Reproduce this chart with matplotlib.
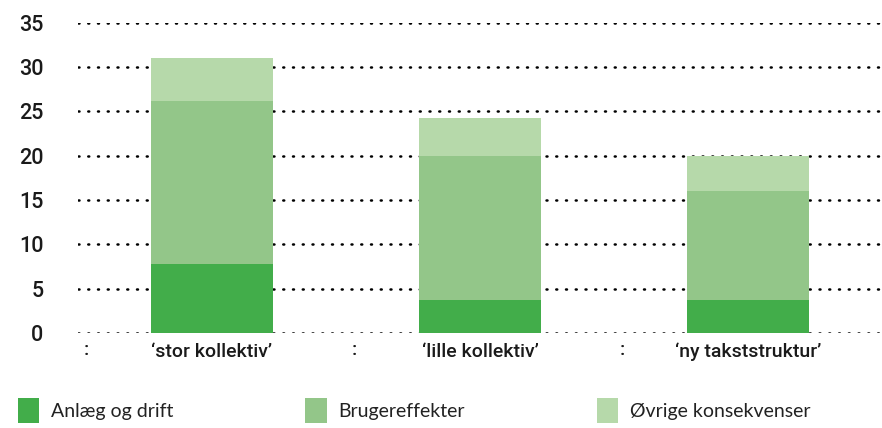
#!/usr/bin/env python3
"""Stacked bars: consequences of three transit scenarios."""

import numpy as np
import matplotlib
matplotlib.use('Agg')
import matplotlib.pyplot as plt
from matplotlib.patches import Patch
import matplotlib.transforms as mtransforms

# ---------------------------------------------------------------------------
# Data
# ---------------------------------------------------------------------------
categories = ['\u2018stor kollektiv\u2019', '\u2018lille kollektiv\u2019',
              '\u2018ny takststruktur\u2019']
series_names = ['Anlæg og drift', 'Brugereffekter', 'Øvrige konsekvenser']
anlaeg = [7.8, 3.7, 3.7]
bruger = [18.4, 16.3, 12.3]
oevrige = [4.8, 4.3, 4.0]
y_ticks = [0, 5, 10, 15, 20, 25, 30, 35]

colors = ['#42ad4a', '#93c689', '#b6d9aa']

# ---------------------------------------------------------------------------
# Figure
# ---------------------------------------------------------------------------
fig = plt.figure(figsize=(8.82, 4.28), dpi=100)
ax = fig.add_axes([78 / 882, 1 - 333 / 428, 1 - 78 / 882, (333 - 22.7) / 428])

x = np.arange(len(categories))
width = 0.455
bottom = np.zeros(len(categories))
for vals, col in zip([anlaeg, bruger, oevrige], colors):
    ax.bar(x, vals, width, bottom=bottom, color=col, zorder=3, linewidth=0)
    bottom += np.array(vals)

# dotted grid lines
for yv in y_ticks:
    ax.axhline(yv, color='black', linewidth=1.8, linestyle=(0, (0.4, 3.5)),
               dash_capstyle='round', zorder=1)

ax.set_xlim(-0.5, 2.5)
ax.set_ylim(0, 35)
ax.set_yticks(y_ticks)
ax.set_yticklabels([str(v) for v in y_ticks], fontsize=15.5,
                   fontfamily='Roboto', fontweight='medium', color='#1a1a1a')
ax.set_xticks(x)
ax.set_xticklabels(categories, fontsize=14, fontfamily='Roboto',
                   fontweight='medium', color='#1a1a1a')
ax.tick_params(axis='y', length=0, pad=25)
ax.tick_params(axis='x', length=0, pad=7)
for sp in ax.spines.values():
    sp.set_visible(False)

# small category separators below the axis
trans = mtransforms.blended_transform_factory(ax.transData, ax.transAxes)
for xb in [-0.5, 0.5, 1.5]:
    ax.text(xb + 0.02, -0.025, ':', transform=trans, fontsize=14,
            fontfamily='Roboto', fontweight='medium',
            ha='left', va='top', color='#1a1a1a')

# ---------------------------------------------------------------------------
# Legend
# ---------------------------------------------------------------------------
handles = [Patch(facecolor=c, edgecolor='none') for c in colors]
fig.legend(handles, series_names, loc='lower left',
           bbox_to_anchor=(0.0, -0.03), ncol=3, frameon=False,
           prop={'family': 'Lato', 'size': 14}, labelcolor='#222222',
           handlelength=1.1, handleheight=1.6, handletextpad=0.6,
           columnspacing=6.8)

fig.savefig('out.png', dpi=100)
plt.close(fig)
